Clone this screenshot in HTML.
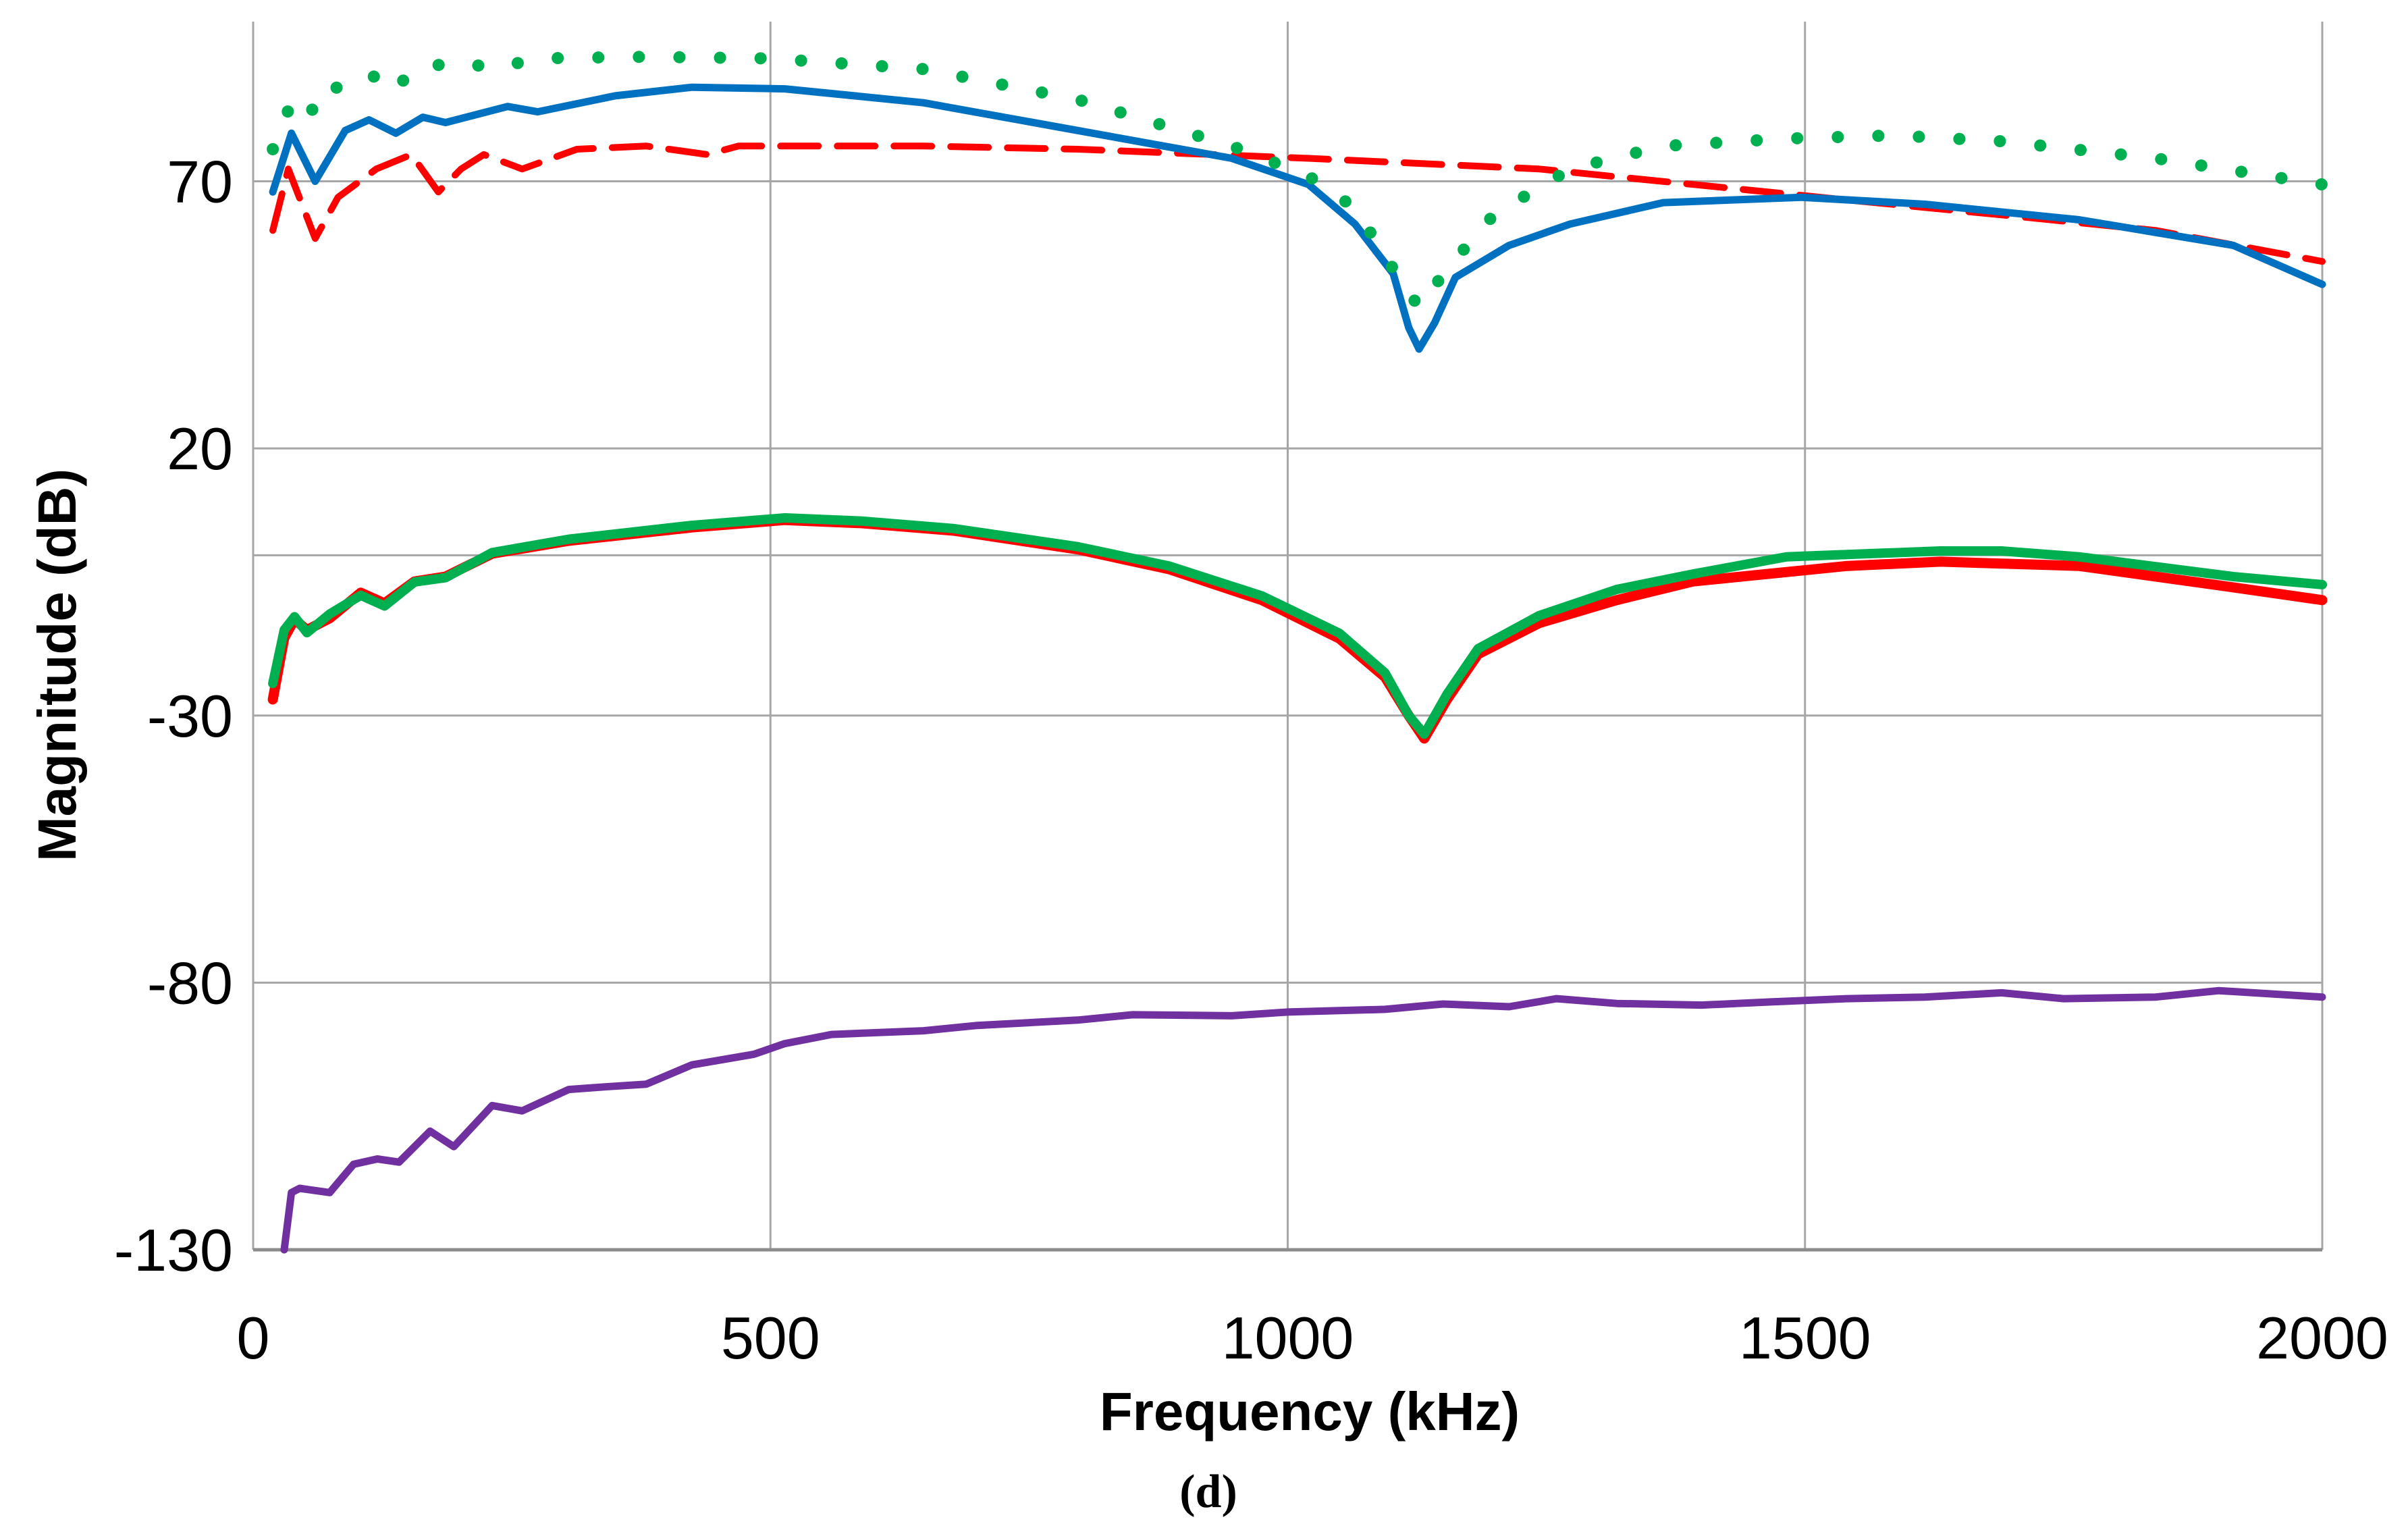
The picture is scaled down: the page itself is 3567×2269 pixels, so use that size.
<!DOCTYPE html>
<html><head><meta charset="utf-8"><style>
html,body{margin:0;padding:0;background:#fff;}
svg{display:block;}
</style></head><body>
<svg id="chart" width="3567" height="2269" viewBox="0 0 3567 2269" xmlns="http://www.w3.org/2000/svg">
<g id="grid"></g>
<g id="series"></g>
<g id="ticks" font-family="Liberation Sans, sans-serif" font-size="88" fill="#000"></g>
<text x="1940" y="2118" text-anchor="middle" font-family="Liberation Sans, sans-serif" font-weight="bold" font-size="80">Frequency  (kHz)</text>
<text transform="translate(112,985) rotate(-90)" text-anchor="middle" font-family="Liberation Sans, sans-serif" font-weight="bold" font-size="80">Magnitude  (dB)</text>
<text x="1790" y="2232" text-anchor="middle" font-family="Liberation Serif, serif" font-weight="bold" font-size="70">(d)</text>
</svg>
<script>
const xTicks = [0, 500, 1000, 1500, 2000];
const yTicks = [70, 20, -30, -80, -130];
const yGrid = [70, 20, 0, -30, -80];

const blueFreq = [19,37,60,89,112,138,164,186,246,275,350,424,514,648,797,946,1020,1065,1102,1117,1127,1142,1162,1214,1273,1363,1497,1616,1765,1914,2000];
const blueDb = [68,79,70,79.5,81.5,79,82,81,84,83,86,87.6,87.3,84.7,79.5,74.3,69.4,62,52.7,42.6,38.6,43.5,52,58,62,66,67,65.7,62.8,58,50.7];

const dotFreq = [19,30,40,52,60,74,97,119,134,156,201,231,275,380,499,648,797,946,1020,1065,1102,1127,1154,1199,1273,1363,1482,1586,1690,1839,2000];
const dotDb = [76,81.5,86,85,82.5,86.7,89.6,89.6,86.7,91,92.5,91,93,93.3,93,91,85.3,76.6,71,65,53.6,46.4,53.6,63.7,72.3,76.6,78,78.6,77.5,74.3,69.4];

const dashFreq = [19,34,60,82,119,153,179,201,223,260,313,380,439,469,648,797,1020,1243,1392,1541,1690,1839,2000];
const dashDb = [60.8,72.3,59.3,67,72.3,75,68,72.3,75,72.3,76,76.6,75,76.6,76.6,76,74.3,72.3,69.4,66.5,63.7,60.8,55];

const redFreq = [19,30,40,52,74,104,127,156,186,231,305,424,514,588,677,797,885,975,1050,1094,1117,1132,1154,1184,1243,1318,1392,1541,1631,1765,1914,2000];
const redDb = [-27,-15.5,-12,-14,-11.8,-7,-9,-4.9,-4,0.3,2.7,5.2,6.6,6,4.6,1.1,-2.6,-8.4,-15.6,-22.8,-30,-34.3,-27,-18.5,-12.7,-8.4,-4.9,-2,-1.2,-2,-6,-8.4];

const greenFreq = [19,30,40,52,74,104,127,156,186,231,305,424,514,588,677,797,885,975,1050,1094,1117,1132,1154,1184,1243,1318,1392,1482,1631,1690,1765,1914,2000];
const greenDb = [-24,-14,-11.5,-14.5,-11,-7.5,-9.5,-5,-4.2,0.5,3,5.6,7,6.4,5,1.6,-2,-7.6,-14.6,-22,-30,-33.5,-26,-17.5,-11.3,-6.4,-3.5,-0.3,0.8,0.8,-0.3,-4,-5.5];

const purpleFreq = [30,37,45,52,74,97,120,141,171,194,231,260,305,340,380,424,484,514,559,648,700,797,850,946,1000,1094,1150,1214,1260,1318,1400,1467,1540,1616,1690,1750,1839,1900,2000];
const purpleDb = [-130,-119.3,-118.5,-118.7,-119.3,-114,-113,-113.6,-107.8,-110.7,-103,-104,-100,-99.5,-99,-95.4,-93.4,-91.4,-89.7,-89,-88,-87,-86,-86.2,-85.5,-85,-84,-84.5,-83,-83.9,-84.2,-83.6,-83,-82.7,-81.9,-83,-82.7,-81.5,-82.7];

const X0 = 375, X1 = 3440, YTOP = 268.5, YBOT = 1851;
function xs(f){ return X0 + (f/2000)*(X1-X0); }
function ys(d){ return YTOP + (70-d)/200*(YBOT-YTOP); }
const NS = 'http://www.w3.org/2000/svg';
const grid = document.getElementById('grid');
const ticks = document.getElementById('ticks');
const series = document.getElementById('series');

yGrid.forEach(v=>{
  const l = document.createElementNS(NS,'line');
  
  
  l.setAttribute('x1',X0); l.setAttribute('x2',X1);
  l.setAttribute('y1',ys(v)); l.setAttribute('y2',ys(v));
  l.setAttribute('stroke','#a6a6a6'); l.setAttribute('stroke-width','3');
  grid.appendChild(l);
});
xTicks.forEach(v=>{
  const l = document.createElementNS(NS,'line');
  
  
  l.setAttribute('x1',xs(v)); l.setAttribute('x2',xs(v));
  l.setAttribute('y1',32); l.setAttribute('y2',YBOT);
  l.setAttribute('stroke','#a6a6a6'); l.setAttribute('stroke-width','3');
  grid.appendChild(l);
  const t = document.createElementNS(NS,'text');
  
  
  t.setAttribute('x',xs(v)); t.setAttribute('y',2012);
  t.setAttribute('text-anchor','middle');
  t.textContent = v;
  ticks.appendChild(t);
});
const ax = document.createElementNS(NS,'line');


ax.setAttribute('x1',X0); ax.setAttribute('x2',X1);
ax.setAttribute('y1',YBOT); ax.setAttribute('y2',YBOT);
ax.setAttribute('stroke','#8c8c8c'); ax.setAttribute('stroke-width','5');
grid.appendChild(ax);
yTicks.forEach(v=>{
  const t = document.createElementNS(NS,'text');
  
  
  t.setAttribute('x',345); t.setAttribute('y',ys(v)+31);
  t.setAttribute('text-anchor','end');
  t.textContent = v;
  ticks.appendChild(t);
});

function drawLine(fr, db, color, width, dash, name){
  const p = document.createElementNS(NS,'path');
  
  
  let d = '';
  fr.forEach((f,i)=>{ d += (i?'L':'M') + xs(f).toFixed(1) + ',' + ys(db[i]).toFixed(1); });
  p.setAttribute('d', d);
  p.setAttribute('fill','none');
  p.setAttribute('stroke', color);
  p.setAttribute('stroke-width', width);
  p.setAttribute('stroke-linejoin','round');
  p.setAttribute('stroke-linecap','round');
  if (dash) p.setAttribute('stroke-dasharray', dash);
  series.appendChild(p);
}
drawLine(purpleFreq, purpleDb, '#7030A0', 11, null, 'purple-series');
drawLine(redFreq, redDb, '#FF0000', 15, null, 'red-solid-series');
drawLine(greenFreq, greenDb, '#00B050', 14, null, 'green-solid-series');
drawLine(dashFreq, dashDb, '#FF0000', 10, '56,28', 'red-dashed-series');
drawLine(blueFreq, blueDb, '#0070C0', 11, null, 'blue-solid-series');
drawLine(dotFreq, dotDb, '#00B050', 18, '0.1,60', 'green-dotted-series');
</script>
</body></html>
